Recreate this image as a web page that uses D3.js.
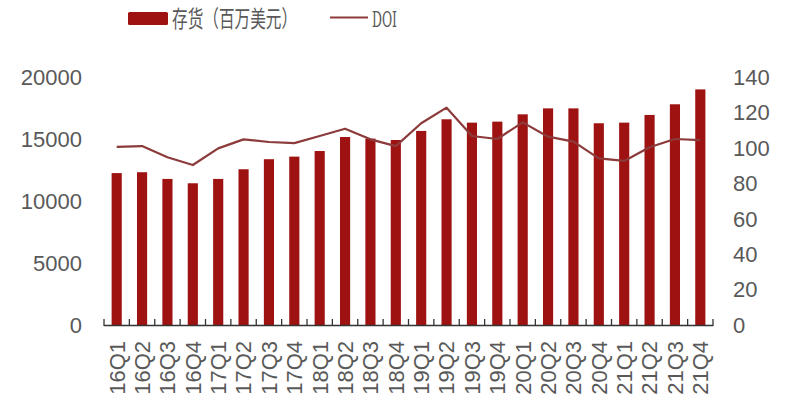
<!DOCTYPE html>
<html><head><meta charset="utf-8">
<script src="https://cdn.jsdelivr.net/npm/d3@7"></script>
<style>body{margin:0;background:#fff}svg{display:block}</style>
</head><body><svg id="c" width="800" height="400"></svg>
<script>
const categories = ["16Q1","16Q2","16Q3","16Q4","17Q1","17Q2","17Q3","17Q4","18Q1","18Q2","18Q3","18Q4","19Q1","19Q2","19Q3","19Q4","20Q1","20Q2","20Q3","20Q4","21Q1","21Q2","21Q3","21Q4"];
const inventory = [12250,12320,11780,11430,11780,12560,13370,13580,14030,15160,15030,14920,15650,16590,16320,16400,16990,17470,17470,16270,16320,16940,17800,19000];
const doi = [100.5,101,94.7,90.3,99.7,104.8,103.3,102.7,106.7,110.8,104.8,101,113.9,122.7,106.7,105,114.4,106.3,103.5,94.1,92.6,100.3,105,104.4];
const leftTicks = [0,5000,10000,15000,20000];
const rightTicks = [0,20,40,60,80,100,120,140];
const legendBar = "存货（百万美元）";
const legendLine = "DOI";

const svg = d3.select("#c");
const x = d3.scaleBand().domain(categories).range([104,713]).paddingInner(0.6).paddingOuter(0.3);
const yL = d3.scaleLinear().domain([0,20000]).range([325,77]);
const yR = d3.scaleLinear().domain([0,140]).range([325,77]);
const barColor = "#9f1212", lineColor = "#8c3a3a", txt = "#595959";
const font = "Arial, 'Liberation Sans', sans-serif";

// bars
svg.append("g").selectAll("rect").data(inventory).join("rect")
  .attr("x",(d,i)=>x(categories[i])).attr("width",x.bandwidth())
  .attr("y",d=>yL(d)).attr("height",d=>yL(0)-yL(d)).attr("fill",barColor);

// line
const line = d3.line().x((d,i)=>x(categories[i])+x.bandwidth()/2).y(d=>yR(d));
svg.append("path").datum(doi).attr("d",line).attr("fill","none")
  .attr("stroke",lineColor).attr("stroke-width",2.2).attr("stroke-linejoin","round");

// x axis line & ticks (upward)
const xa = svg.append("g");
xa.append("line").attr("x1",104).attr("x2",713).attr("y1",325.5).attr("y2",325.5).attr("stroke","#333").attr("stroke-width",1.3);
const step = x.step();
const bounds = d3.range(categories.length+1).map(i=> i===0?104:(i===categories.length?713:x(categories[i])-(step-x.bandwidth())/2));
xa.selectAll("line.t").data(bounds).join("line").attr("class","t")
  .attr("x1",d=>d).attr("x2",d=>d).attr("y1",319).attr("y2",326).attr("stroke","#333").attr("stroke-width",1.3);

// x labels
svg.append("g").selectAll("text").data(categories).join("text")
  .attr("transform",d=>`translate(${x(d)+x.bandwidth()/2},341) rotate(-90)`)
  .attr("text-anchor","end").attr("dy","0.36em")
  .attr("font-family",font).attr("font-size",22).attr("fill",txt).text(d=>d);

// left axis labels
svg.append("g").selectAll("text").data(leftTicks).join("text")
  .attr("x",82).attr("y",d=>yL(d)).attr("dy","0.36em").attr("text-anchor","end")
  .attr("font-family",font).attr("font-size",22).attr("fill",txt).text(d=>d);

// right axis labels
svg.append("g").selectAll("text").data(rightTicks).join("text")
  .attr("x",733).attr("y",d=>yR(d)).attr("dy","0.36em").attr("text-anchor","start")
  .attr("font-family",font).attr("font-size",22).attr("fill",txt).text(d=>d);

// legend
const lg = svg.append("g");
lg.append("rect").attr("x",128).attr("y",12).attr("width",40).attr("height",13).attr("rx",1.5).attr("fill",barColor);
lg.append("text").attr("x",172).attr("y",19).attr("dy","0.36em")
  .attr("font-family","'Noto Sans CJK SC', sans-serif").attr("font-size",23).attr("fill",txt)
  .attr("textLength",125).attr("lengthAdjust","spacingAndGlyphs").text(legendBar);
lg.append("line").attr("x1",330).attr("x2",368).attr("y1",17.5).attr("y2",17.5).attr("stroke",lineColor).attr("stroke-width",2.2);
lg.append("text").attr("x",372).attr("y",19).attr("dy","0.36em")
  .attr("font-family","'DejaVu Serif', 'Liberation Serif', serif").attr("font-size",23).attr("fill",txt)
  .attr("textLength",25).attr("lengthAdjust","spacingAndGlyphs").text(legendLine);
</script></body></html>
